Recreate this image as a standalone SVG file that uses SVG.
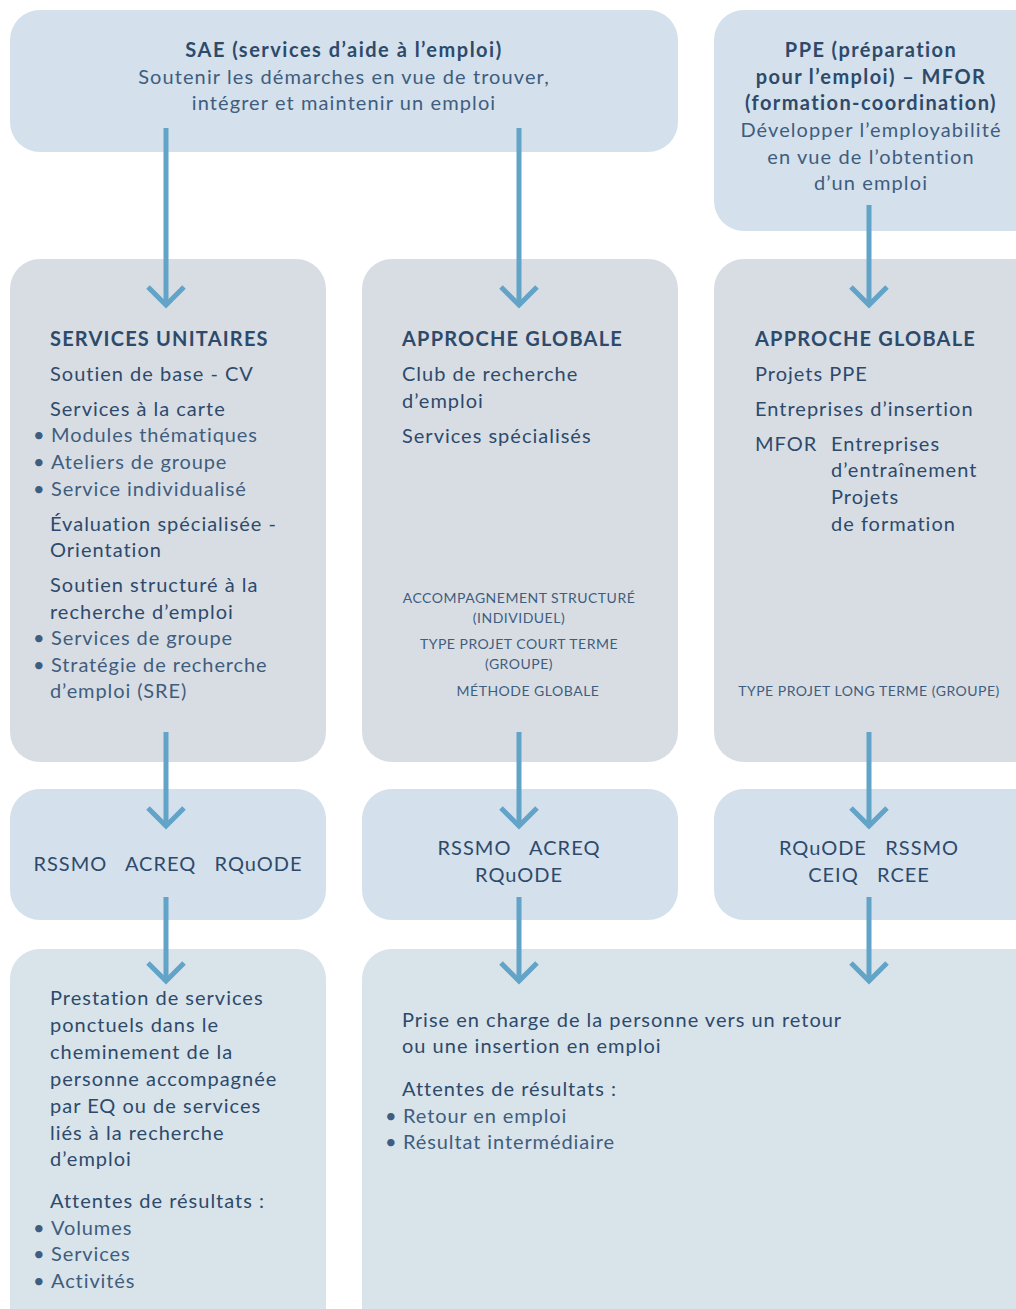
<svg xmlns="http://www.w3.org/2000/svg" width="1016" height="1309" viewBox="0 0 1016 1309">
<defs>
<style>
.b1{fill:#d4e0eb}
.b2{fill:#d8dde4}
.b4{fill:#d9e3ea}
text{font-family:Lato,"Noto Sans","Liberation Sans",sans-serif;fill:#2d4a6b}
.h{font-weight:700;font-size:20px;letter-spacing:1.2px}
.m{font-size:20px;letter-spacing:1px}
.l{font-size:20px;letter-spacing:0.9px;fill:#3f5d7e}
.s{font-size:14px;letter-spacing:0.5px;fill:#3f5d7e}
.t{font-size:20px;letter-spacing:1.1px}
.c{text-anchor:middle}
.arr{stroke:#62a3c8;stroke-width:5;fill:none}
</style>
<marker id="ah" markerUnits="userSpaceOnUse" markerWidth="30" markerHeight="44" refX="24" refY="22" orient="auto" viewBox="0 0 30 44">
<path d="M6 4 L24 22 L6 40" stroke="#62a3c8" stroke-width="5" fill="none"/>
</marker>
</defs>

<g id="sae"><rect class="b1" x="10" y="10" width="668" height="142" rx="30"/>
<text class="h c" x="344" y="57" style="letter-spacing:1.5px">SAE (services d’aide à l’emploi)</text>
<text class="l c t" x="344" y="84">Soutenir les démarches en vue de trouver,</text>
<text class="l c t" x="344" y="110">intégrer et maintenir un emploi</text></g>

<g id="ppe"><rect class="b1" x="714" y="10" width="330" height="221" rx="30"/>
<text class="h c" x="871" y="57" style="letter-spacing:1.4px">PPE (préparation</text>
<text class="h c" x="871" y="84" style="letter-spacing:1.4px">pour l’emploi) – MFOR</text>
<text class="h c" x="871" y="110" style="letter-spacing:1.4px">(formation-coordination)</text>
<text class="l c t" x="871" y="137">Développer l’employabilité</text>
<text class="l c t" x="871" y="164">en vue de l’obtention</text>
<text class="l c t" x="871" y="190">d’un emploi</text></g>

<g id="su"><rect class="b2" x="10" y="259" width="316" height="503" rx="30"/>
<text class="h" x="50" y="346">SERVICES UNITAIRES</text>
<text class="m" x="50" y="381">Soutien de base - CV</text>
<text class="m" x="50" y="416">Services à la carte</text>
<text class="l" y="442"><tspan x="33">•</tspan><tspan x="51">Modules thématiques</tspan></text>
<text class="l" y="469"><tspan x="33">•</tspan><tspan x="51">Ateliers de groupe</tspan></text>
<text class="l" y="496"><tspan x="33">•</tspan><tspan x="51">Service individualisé</tspan></text>
<text class="m" x="50" y="531">Évaluation spécialisée -</text>
<text class="m" x="50" y="557">Orientation</text>
<text class="m" x="50" y="592">Soutien structuré à la</text>
<text class="m" x="50" y="619">recherche d’emploi</text>
<text class="l" y="645"><tspan x="33">•</tspan><tspan x="51">Services de groupe</tspan></text>
<text class="l" y="672"><tspan x="33">•</tspan><tspan x="51">Stratégie de recherche</tspan></text>
<text class="l" x="50" y="698">d’emploi (SRE)</text></g>

<g id="ag1"><rect class="b2" x="362" y="259" width="316" height="503" rx="30"/>
<text class="h" x="402" y="346">APPROCHE GLOBALE</text>
<text class="m" x="402" y="381">Club de recherche</text>
<text class="m" x="402" y="408">d’emploi</text>
<text class="m" x="402" y="443">Services spécialisés</text>
<text class="s c" x="519" y="603">ACCOMPAGNEMENT STRUCTURÉ</text>
<text class="s c" x="519" y="623">(INDIVIDUEL)</text>
<text class="s c" x="519" y="649">TYPE PROJET COURT TERME</text>
<text class="s c" x="519" y="669">(GROUPE)</text>
<text class="s c" x="528" y="696">MÉTHODE GLOBALE</text></g>

<g id="ag2"><rect class="b2" x="714" y="259" width="330" height="503" rx="30"/>
<text class="h" x="755" y="346">APPROCHE GLOBALE</text>
<text class="m" x="755" y="381">Projets PPE</text>
<text class="m" x="755" y="416">Entreprises d’insertion</text>
<text class="m" x="755" y="451">MFOR</text>
<text class="m" x="831" y="451">Entreprises</text>
<text class="m" x="831" y="477">d’entraînement</text>
<text class="m" x="831" y="504">Projets</text>
<text class="m" x="831" y="531">de formation</text>
<text class="s c" x="869" y="696">TYPE PROJET LONG TERME (GROUPE)</text></g>

<g id="r1"><rect class="b1" x="10" y="789" width="316" height="131" rx="30"/>
<text class="m c" x="168" y="871" xml:space="preserve">RSSMO   ACREQ   RQuODE</text></g>
<g id="r2"><rect class="b1" x="362" y="789" width="316" height="131" rx="30"/>
<text class="m c" x="519" y="855" xml:space="preserve">RSSMO   ACREQ</text>
<text class="m c" x="519" y="882">RQuODE</text></g>
<g id="r3"><rect class="b1" x="714" y="789" width="330" height="131" rx="30"/>
<text class="m c" x="869" y="855" xml:space="preserve">RQuODE   RSSMO</text>
<text class="m c" x="869" y="882" xml:space="preserve">CEIQ   RCEE</text></g>

<g id="res1"><rect class="b4" x="10" y="949" width="316" height="400" rx="30"/>
<text class="m" x="50" y="1005">Prestation de services</text>
<text class="m" x="50" y="1032">ponctuels dans le</text>
<text class="m" x="50" y="1059">cheminement de la</text>
<text class="m" x="50" y="1086">personne accompagnée</text>
<text class="m" x="50" y="1113">par EQ ou de services</text>
<text class="m" x="50" y="1140">liés à la recherche</text>
<text class="m" x="50" y="1166">d’emploi</text>
<text class="m" x="50" y="1208">Attentes de résultats :</text>
<text class="l" y="1235"><tspan x="33">•</tspan><tspan x="51">Volumes</tspan></text>
<text class="l" y="1261"><tspan x="33">•</tspan><tspan x="51">Services</tspan></text>
<text class="l" y="1288"><tspan x="33">•</tspan><tspan x="51">Activités</tspan></text></g>

<g id="res2"><rect class="b4" x="362" y="949" width="682" height="400" rx="30"/>
<text class="m" x="402" y="1027">Prise en charge de la personne vers un retour</text>
<text class="m" x="402" y="1053">ou une insertion en emploi</text>
<text class="m" x="402" y="1096">Attentes de résultats :</text>
<text class="l" y="1123"><tspan x="385">•</tspan><tspan x="403">Retour en emploi</tspan></text>
<text class="l" y="1149"><tspan x="385">•</tspan><tspan x="403">Résultat intermédiaire</tspan></text></g>

<g id="connectors" class="arr">
<line x1="166" y1="128" x2="166" y2="305" marker-end="url(#ah)"/>
<line x1="519" y1="128" x2="519" y2="305" marker-end="url(#ah)"/>
<line x1="869" y1="205" x2="869" y2="305" marker-end="url(#ah)"/>
<line x1="166" y1="732" x2="166" y2="826" marker-end="url(#ah)"/>
<line x1="519" y1="732" x2="519" y2="826" marker-end="url(#ah)"/>
<line x1="869" y1="732" x2="869" y2="826" marker-end="url(#ah)"/>
<line x1="166" y1="897" x2="166" y2="981" marker-end="url(#ah)"/>
<line x1="519" y1="897" x2="519" y2="981" marker-end="url(#ah)"/>
<line x1="869" y1="897" x2="869" y2="981" marker-end="url(#ah)"/>
</g>
</svg>
